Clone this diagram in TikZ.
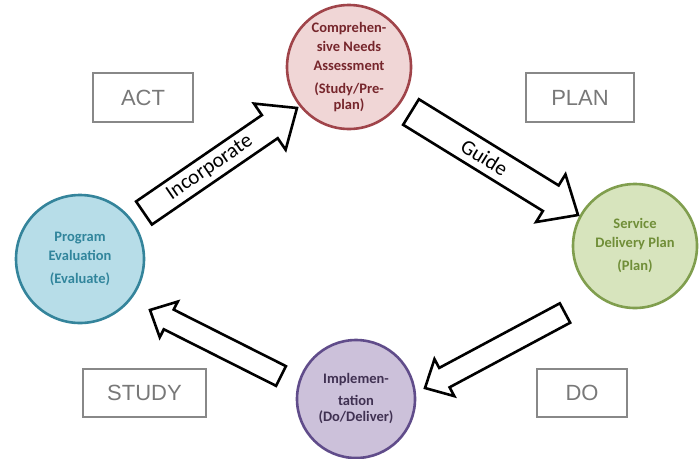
\documentclass[tikz,border=0pt]{standalone}
\usepackage{fontspec}
\setmainfont{Carlito}
\newfontfamily\arialf{Liberation Sans}
\usetikzlibrary{calc}
\definecolor{redfill}{RGB}{240,214,214}
\definecolor{redline}{RGB}{160,68,74}
\definecolor{redtext}{RGB}{118,38,44}
\definecolor{greenfill}{RGB}{215,228,189}
\definecolor{greenline}{RGB}{128,158,78}
\definecolor{greentext}{RGB}{112,142,56}
\definecolor{bluefill}{RGB}{183,221,232}
\definecolor{blueline}{RGB}{52,132,155}
\definecolor{bluetext}{RGB}{49,133,156}
\definecolor{purplefill}{RGB}{204,193,218}
\definecolor{purpleline}{RGB}{96,76,138}
\definecolor{purpletext}{RGB}{64,49,82}
\definecolor{boxgray}{RGB}{136,136,136}
\definecolor{boxtext}{RGB}{120,120,120}
\newcommand{\blockarrow}[5]{%
  \draw[blockline] ($(#1)!#3!90:(#2)$) -- ($($(#2)!#5!(#1)$)!#3!-90:(#1)$)
    -- ($($(#2)!#5!(#1)$)!#4!-90:(#1)$) -- (#2)
    -- ($($(#2)!#5!(#1)$)!#4!90:(#1)$) -- ($($(#2)!#5!(#1)$)!#3!90:(#1)$)
    -- ($(#1)!#3!-90:(#2)$) -- cycle;}
\tikzset{
  stage/.style={circle, line width=2.6pt, minimum size=124pt, inner sep=0pt,
    align=center, font=\fontsize{14.5}{19}\selectfont\bfseries},
  phasebox/.style={draw=boxgray, line width=1.3pt, inner sep=0pt,
    font=\arialf\fontsize{22}{24}\selectfont, text=boxtext},
  blockline/.style={draw=black, line width=2.6pt, fill=white, line join=miter},
  arrowtext/.style={font=\fontsize{21}{22}\selectfont, sloped}
}
\begin{document}
\begin{tikzpicture}[x=1pt,y=-1pt]
\useasboundingbox (0,0) rectangle (700,458);
% circles
\node[stage, fill=redfill, draw=redline, text=redtext] (cna) at (349,67)
  {Comprehen-\\sive Needs\\Assessment\\[4pt](Study/Pre-\\[-3pt]plan)};
\node[stage, fill=greenfill, draw=greenline, text=greentext] (sdp) at (635,246)
  {Service\\Delivery Plan\\[4pt](Plan)};
\node[stage, fill=bluefill, draw=blueline, text=bluetext, minimum size=128pt] (pe) at (80,259)
  {Program\\Evaluation\\[4pt](Evaluate)};
\node[stage, fill=purplefill, draw=purpleline, text=purpletext, minimum size=118pt] (imp) at (356,399)
  {Implemen-\\[3pt]tation\\[-3pt](Do/Deliver)};
% boxes
\node[phasebox, minimum width=100pt, minimum height=49pt] (act) at (143,97.5) {ACT};
\node[phasebox, minimum width=108pt, minimum height=49pt] (plan) at (580,97.5) {PLAN};
\node[phasebox, minimum width=123pt, minimum height=48pt] (study) at (144.5,393) {STUDY};
\node[phasebox, minimum width=90pt, minimum height=48pt] (do) at (582,393) {DO};
% block arrows
\coordinate (inc1) at (144,213);
\coordinate (inc2) at (297,108);
\coordinate (gui1) at (411,112);
\coordinate (gui2) at (578,215);
\coordinate (dr1) at (565,313);
\coordinate (dr2) at (425,388);
\coordinate (dl1) at (281,376);
\coordinate (dl2) at (150,310);
\blockarrow{inc1}{inc2}{14pt}{28pt}{33pt}
\blockarrow{gui1}{gui2}{15pt}{28pt}{32pt}
\blockarrow{dr1}{dr2}{11pt}{21pt}{22pt}
\blockarrow{dl1}{dl2}{11pt}{20pt}{21pt}
\path (inc1) -- (inc2) node[arrowtext, pos=0.43] (inctext) {Incorporate};
\path (gui1) -- (gui2) node[arrowtext, pos=0.44] (guitext) {Guide};
\end{tikzpicture}
\end{document}
